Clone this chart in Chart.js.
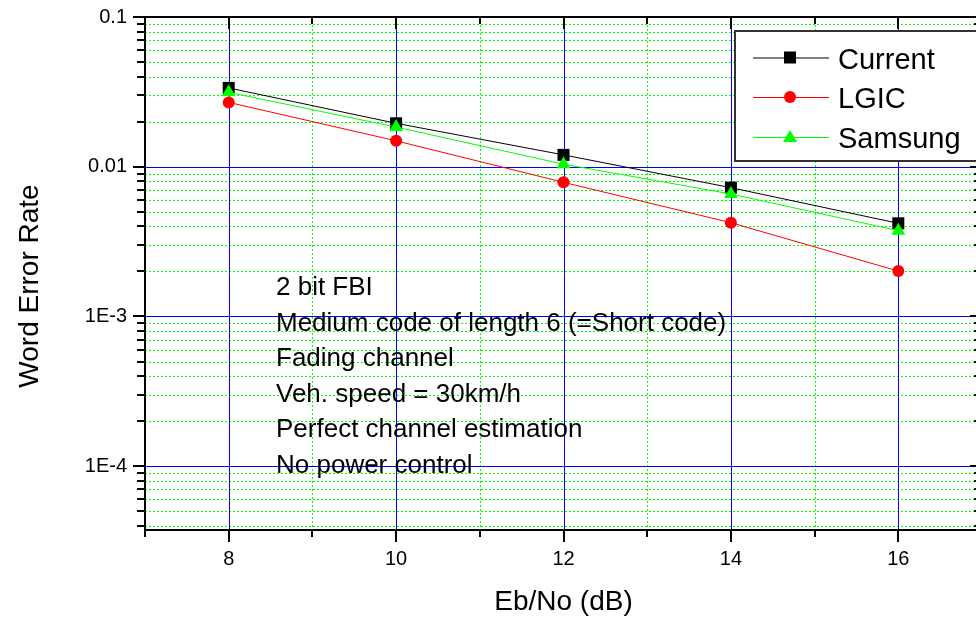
<!DOCTYPE html>
<html><head><meta charset="utf-8">
<script src="https://cdn.jsdelivr.net/npm/chart.js@4/dist/chart.umd.min.js"></script>
<style>
html,body{margin:0;padding:0;overflow:hidden;background:#fff;width:976px;height:619px}
#wrap{position:absolute;left:0;top:0;width:1000px;height:619px}
</style></head>
<body><div id="wrap"><canvas id="c" width="1000" height="619"></canvas></div>
<script>
const ebno = [8, 10, 12, 14, 16];
const werCurrent = [0.0336, 0.0195, 0.0120, 0.00725, 0.00419];
const werLGIC = [0.0269, 0.0149, 0.00787, 0.00423, 0.00201];
const werSamsung = [0.0314, 0.0184, 0.0104, 0.00658, 0.00374];
const seriesNames = ['Current', 'LGIC', 'Samsung'];
const xMajorTicks = [8, 10, 12, 14, 16];
const xMinorTicks = [7, 9, 11, 13, 15, 17];
const yMajorTicks = [1e-1, 1e-2, 1e-3, 1e-4];
const yTickLabels = ['0.1', '0.01', '1E-3', '1E-4'];
const notes = ['2 bit FBI', 'Medium code of length 6 (=Short code)', 'Fading channel',
  'Veh. speed = 30km/h', 'Perfect channel estimation', 'No power control'];
const xTitle = 'Eb/No (dB)';
const yTitle = 'Word Error Rate';

const FONT = '"Liberation Sans", Arial, Helvetica, sans-serif';
const toPts = ys => ebno.map((x, i) => ({x: x, y: ys[i]}));

function yMinorValues(scale) {
  const out = [];
  for (let e = -6; e <= 0; e++) {
    for (let m = 2; m <= 9; m++) {
      const v = m * Math.pow(10, e);
      if (v > scale.min && v < scale.max) out.push(v);
    }
  }
  return out;
}

function seg(ctx, x1, y1, x2, y2) {
  ctx.beginPath(); ctx.moveTo(x1, y1); ctx.lineTo(x2, y2); ctx.stroke();
}

function marker(ctx, style, x, y, color) {
  ctx.fillStyle = color;
  ctx.beginPath();
  if (style === 'rect') { ctx.rect(x - 6, y - 6, 12, 12); }
  else if (style === 'circle') { ctx.arc(x, y, 6, 0, Math.PI * 2); }
  else {
    ctx.moveTo(x, y - 7);
    ctx.lineTo(x + 7, y + 5);
    ctx.lineTo(x - 7, y + 5);
    ctx.closePath();
  }
  ctx.fill();
}

const decor = {
  id: 'decor',
  beforeDatasetsDraw(chart) {
    const ctx = chart.ctx, a = chart.chartArea, x = chart.scales.x, y = chart.scales.y;
    ctx.save();
    ctx.beginPath(); ctx.rect(a.left, a.top, a.right - a.left, a.bottom - a.top); ctx.clip();
    ctx.lineWidth = 1;
    ctx.strokeStyle = '#00ff00';
    ctx.setLineDash([2, 2]);
    for (const v of xMinorTicks) {
      const px = Math.round(x.getPixelForValue(v)) + 0.5;
      seg(ctx, px, a.top, px, a.bottom);
    }
    for (const v of yMinorValues(y)) {
      const py = Math.round(y.getPixelForValue(v)) + 0.5;
      seg(ctx, a.left, py, a.right, py);
    }
    ctx.setLineDash([]);
    ctx.strokeStyle = '#0000ff';
    for (const v of xMajorTicks) {
      const px = Math.round(x.getPixelForValue(v)) + 0.5;
      seg(ctx, px, a.top, px, a.bottom);
    }
    for (const v of yMajorTicks) {
      const py = Math.round(y.getPixelForValue(v)) + 0.5;
      seg(ctx, a.left, py, a.right, py);
    }
    ctx.restore();

    ctx.save();
    ctx.fillStyle = '#000';
    ctx.font = '26px ' + FONT;
    ctx.textAlign = 'left';
    ctx.textBaseline = 'alphabetic';
    notes.forEach((t, i) => ctx.fillText(t, 276, 295 + 35.5 * i));
    ctx.restore();
  },
  afterDatasetsDraw(chart) {
    const ctx = chart.ctx, a = chart.chartArea, x = chart.scales.x, y = chart.scales.y;
    ctx.save();
    ctx.strokeStyle = '#000';
    ctx.lineWidth = 2;
    ctx.strokeRect(a.left, a.top, a.right - a.left, a.bottom - a.top);
    for (const v of xMajorTicks) {
      const px = Math.round(x.getPixelForValue(v));
      seg(ctx, px, a.bottom, px, a.bottom + 12);
      seg(ctx, px, a.top, px, a.top + 12);
    }
    for (const v of xMinorTicks) {
      const px = Math.round(x.getPixelForValue(v));
      seg(ctx, px, a.bottom, px, a.bottom + 7);
      seg(ctx, px, a.top, px, a.top + 7);
    }
    for (const v of yMajorTicks) {
      const py = Math.round(y.getPixelForValue(v));
      seg(ctx, a.left - 12, py, a.left, py);
      seg(ctx, a.right - 12, py, a.right, py);
    }
    for (const v of yMinorValues(y)) {
      const py = Math.round(y.getPixelForValue(v));
      seg(ctx, a.left - 8, py, a.left, py);
      seg(ctx, a.right - 8, py, a.right, py);
    }

    ctx.fillStyle = '#fff';
    ctx.fillRect(735, 31, 300, 130);
    ctx.strokeStyle = '#333';
    ctx.lineWidth = 2;
    ctx.strokeRect(735, 31, 300, 130);
    const rows = [57.5, 97, 137];
    chart.data.datasets.forEach((ds, i) => {
      const ry = rows[i];
      ctx.strokeStyle = ds.borderColor;
      ctx.lineWidth = 1;
      seg(ctx, 753, ry + 0.5, 829, ry + 0.5);
      marker(ctx, ds.pointStyle, 790, ry, ds.backgroundColor);
      ctx.fillStyle = '#000';
      ctx.font = '29px ' + FONT;
      ctx.textAlign = 'left';
      ctx.textBaseline = 'alphabetic';
      ctx.fillText(seriesNames[i], 838, ry + 11);
    });

    ctx.fillStyle = '#000';
    ctx.font = '28px ' + FONT;
    ctx.textAlign = 'center';
    ctx.textBaseline = 'alphabetic';
    ctx.fillText(xTitle, (a.left + a.right) / 2, 610);
    ctx.translate(38, 286);
    ctx.rotate(-Math.PI / 2);
    ctx.fillText(yTitle, 0, 0);
    ctx.restore();
  }
};

function noPad(s) { s.paddingTop = 0; s.paddingBottom = 0; s.paddingLeft = 0; s.paddingRight = 0; }

new Chart(document.getElementById('c'), {
  type: 'line',
  data: {
    datasets: [
      {label: seriesNames[0], data: toPts(werCurrent), borderColor: '#000000', backgroundColor: '#000000',
       pointStyle: 'rect', pointRadius: 8.5, borderWidth: 1, pointBorderWidth: 0, order: 3},
      {label: seriesNames[1], data: toPts(werLGIC), borderColor: '#ff0000', backgroundColor: '#ff0000',
       pointStyle: 'circle', pointRadius: 6, borderWidth: 1, pointBorderWidth: 0, order: 2},
      {label: seriesNames[2], data: toPts(werSamsung), borderColor: '#00ff00', backgroundColor: '#00ff00',
       pointStyle: 'triangle', pointRadius: 8, borderWidth: 1, pointBorderWidth: 0, order: 1}
    ]
  },
  options: {
    responsive: false,
    animation: false,
    devicePixelRatio: 1,
    layout: {padding: {left: 0, top: 17, right: 18, bottom: 0}},
    plugins: {legend: {display: false}, tooltip: {enabled: false}},
    elements: {line: {tension: 0}},
    scales: {
      x: {
        type: 'linear', min: 7, max: 17,
        grid: {display: false, drawTicks: false},
        border: {display: false},
        afterBuildTicks: s => { s.ticks = xMajorTicks.map(v => ({value: v})); },
        ticks: {font: {family: FONT, size: 20}, color: '#000', padding: 17, maxRotation: 0, autoSkip: false},
        afterFit: s => { s.height = 89; noPad(s); }
      },
      y: {
        type: 'logarithmic', min: 3.75e-5, max: 0.1,
        grid: {display: false, drawTicks: false},
        border: {display: false},
        afterBuildTicks: s => { s.ticks = yMajorTicks.map(v => ({value: v})); },
        ticks: {
          font: {family: FONT, size: 20}, color: '#000', padding: 18, autoSkip: false,
          callback: (v, i) => yTickLabels[i]
        },
        afterFit: s => { s.width = 145; noPad(s); }
      }
    }
  },
  plugins: [decor]
});
</script>
</body></html>
